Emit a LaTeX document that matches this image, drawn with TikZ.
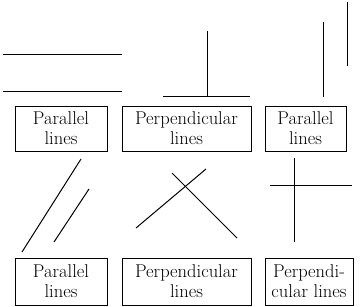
\documentclass[tikz,border=0pt]{standalone}
\begin{document}
\begin{tikzpicture}[x=1pt,y=-1pt,line width=1pt,
  lbl/.style={draw,line width=0.9pt,rectangle,inner sep=0pt,align=center,
    font=\fontsize{18.5}{20}\selectfont},
  ln/.style={line width=1pt}]
\useasboundingbox (0,0) rectangle (361,307);
% top row figures
\draw[ln] (3,55) -- (122,55);
\draw[ln] (3,92) -- (122,92);
\draw[ln] (163,97) -- (250,97);
\draw[ln] (207,31) -- (207,97);
\draw[ln] (323,22) -- (323,97);
\draw[ln] (347,2) -- (347,66);
% top row labels
\node[lbl,minimum width=92pt,minimum height=45pt] (b1) at (61,128.5) {Parallel\\lines};
\node[lbl,minimum width=129pt,minimum height=45pt] (b2) at (186.5,128.5) {Perpendicular\\lines};
\node[lbl,minimum width=81pt,minimum height=45pt] (b3) at (305.5,128.5) {Parallel\\lines};
% bottom row figures
\draw[ln] (22,252) -- (81,159);
\draw[ln] (54,242) -- (89,189);
\draw[ln] (136,228) -- (206,169);
\draw[ln] (172,173) -- (237,238);
\draw[ln] (270,185) -- (352,185);
\draw[ln] (294,158) -- (294,242);
% bottom row labels
\node[lbl,minimum width=92pt,minimum height=47pt] (c1) at (61,281.5) {Parallel\\lines};
\node[lbl,minimum width=129pt,minimum height=47pt] (c2) at (186.5,281.5) {Perpendicular\\lines};
\node[lbl,minimum width=88pt,minimum height=47pt] (c3) at (309,281.5) {Perpendi-\\cular lines};
\end{tikzpicture}
\end{document}
